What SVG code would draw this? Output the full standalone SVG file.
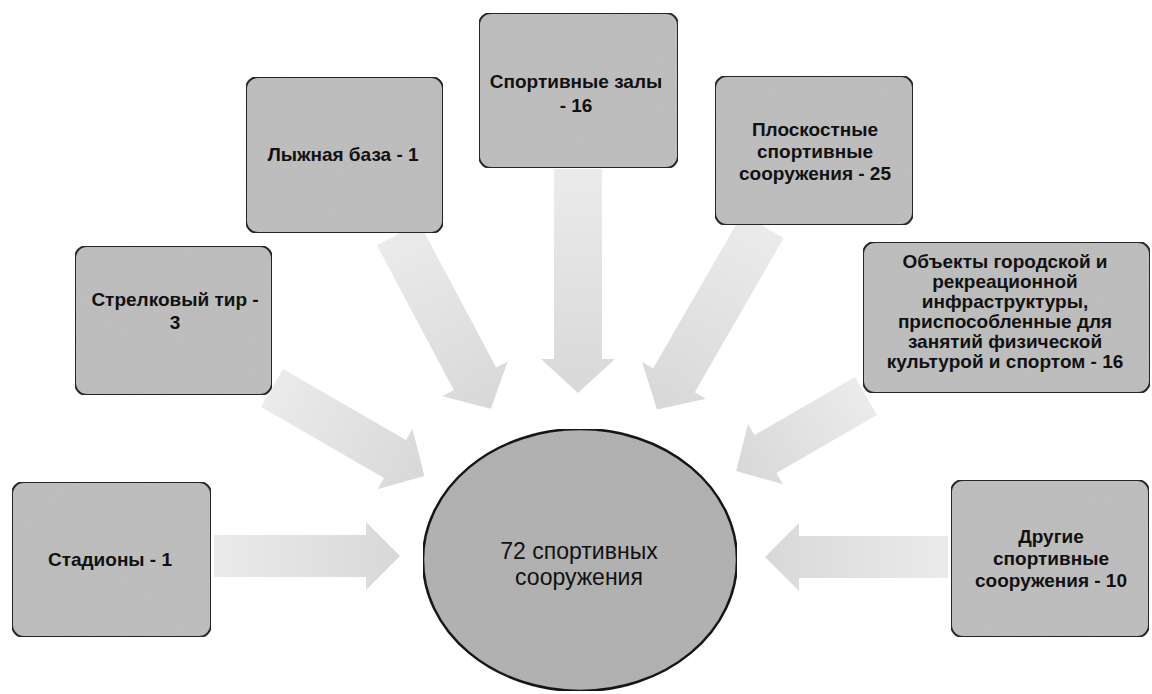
<svg xmlns="http://www.w3.org/2000/svg" width="1152" height="694" viewBox="0 0 1152 694">
<defs>
<linearGradient id="ag" x1="0" y1="0" x2="1" y2="0">
<stop offset="0" stop-color="#ebebeb"/>
<stop offset="1" stop-color="#d8d8d8"/>
</linearGradient>
<filter id="grain" x="0" y="0" width="100%" height="100%">
<feTurbulence type="fractalNoise" baseFrequency="0.9" numOctaves="2" seed="3" result="n"/>
<feColorMatrix in="n" type="matrix" values="0 0 0 0 0  0 0 0 0 0  0 0 0 0 0  0 0 0 0.12 0" result="g"/>
<feComposite in="g" in2="SourceGraphic" operator="in" result="gi"/>
<feMerge><feMergeNode in="SourceGraphic"/><feMergeNode in="gi"/></feMerge>
</filter>
</defs>
<style>
.box{fill:#c2c2c2;stroke:#2a2a2a;stroke-width:2}
.ell{fill:#b6b6b6;stroke:#1e1e1e;stroke-width:2.5}
.arr{fill:url(#ag)}
.t{font-family:"Liberation Sans",Arial,sans-serif;font-weight:bold;font-size:19px;fill:#111;text-anchor:middle}
.c{font-family:"Liberation Sans",Arial,sans-serif;font-size:23px;fill:#111;text-anchor:middle}
</style>
<rect width="1152" height="694" fill="#ffffff"/>
<g id="connectors">
<path class="arr" transform="translate(214,556) rotate(0)" d="M0,-21 H152 V-34 L186,0 L152,34 V21 H0 Z"/>
<path class="arr" transform="translate(948,557) rotate(180)" d="M0,-21 H149 V-34 L183,0 L149,34 V21 H0 Z"/>
<path class="arr" transform="translate(272,388) rotate(30)" d="M0,-22 H142 V-35 L176,0 L142,35 V22 H0 Z"/>
<path class="arr" transform="translate(398,234) rotate(62)" d="M0,-24 H164 V-37 L198,0 L164,37 V24 H0 Z"/>
<path class="arr" transform="translate(578,169) rotate(90)" d="M0,-24 H190 V-37 L224,0 L190,37 V24 H0 Z"/>
<path class="arr" transform="translate(763,226) rotate(120)" d="M0,-24 H178 V-37 L212,0 L178,37 V24 H0 Z"/>
<path class="arr" transform="translate(866,396) rotate(150)" d="M0,-22 H116 V-35 L150,0 L116,35 V22 H0 Z"/>
</g>
<g id="node-center">
<ellipse class="ell" cx="580" cy="560" rx="157" ry="131" filter="url(#grain)"/>
<text class="c" x="579" y="559">72 спортивных</text>
<text class="c" x="579" y="585">сооружения</text>
</g>
<g id="node-stadiony">
<rect class="box" x="12" y="482" width="199" height="155" rx="12" filter="url(#grain)"/>
<text class="t" x="110" y="566">Стадионы - 1</text>
</g>
<g id="node-tir">
<rect class="box" x="75" y="246" width="197" height="149" rx="12" filter="url(#grain)"/>
<text class="t" x="175" y="306">Стрелковый тир -</text>
<text class="t" x="175" y="329">3</text>
</g>
<g id="node-lyzhnaya">
<rect class="box" x="246" y="77" width="197" height="156" rx="12" filter="url(#grain)"/>
<text class="t" x="343" y="161">Лыжная база - 1</text>
</g>
<g id="node-zaly">
<rect class="box" x="479" y="13" width="199" height="155" rx="12" filter="url(#grain)"/>
<text class="t" x="576" y="88">Спортивные залы</text>
<text class="t" x="576" y="112">- 16</text>
</g>
<g id="node-ploskostnye">
<rect class="box" x="715" y="76" width="198" height="149" rx="12" filter="url(#grain)"/>
<text class="t" x="815" y="136">Плоскостные</text>
<text class="t" x="815" y="158">спортивные</text>
<text class="t" x="815" y="180">сооружения - 25</text>
</g>
<g id="node-obekty">
<rect class="box" x="863" y="242" width="287" height="151" rx="12" filter="url(#grain)"/>
<text class="t" x="1005" y="268">Объекты городской и</text>
<text class="t" x="1005" y="288">рекреационной</text>
<text class="t" x="1005" y="308">инфраструктуры,</text>
<text class="t" x="1005" y="328">приспособленные для</text>
<text class="t" x="1005" y="348">занятий физической</text>
<text class="t" x="1005" y="368">культурой и спортом - 16</text>
</g>
<g id="node-drugie">
<rect class="box" x="951" y="480" width="198" height="157" rx="12" filter="url(#grain)"/>
<text class="t" x="1051" y="543">Другие</text>
<text class="t" x="1051" y="565">спортивные</text>
<text class="t" x="1051" y="587">сооружения - 10</text>
</g>
</svg>
